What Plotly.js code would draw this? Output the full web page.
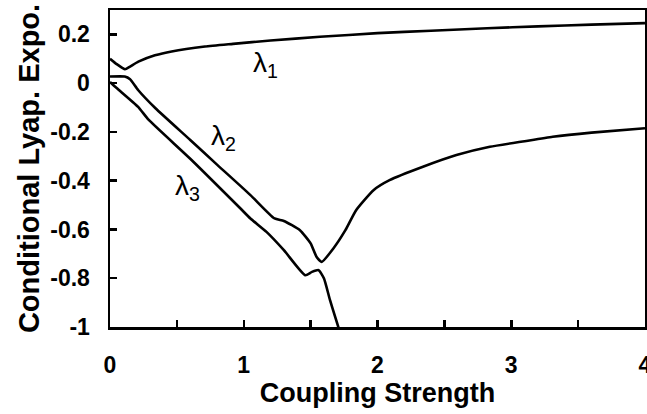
<!DOCTYPE html>
<html>
<head>
<meta charset="utf-8">
<script src="https://cdn.plot.ly/plotly-3.0.1.min.js"></script>
<style>html,body{margin:0;padding:0;background:#fff;}#chart{width:647px;height:414px;}</style>
</head>
<body>
<div id="chart"></div>
<script>
// λ1
const x1 = [0, 0.05, 0.112, 0.15, 0.212, 0.336, 0.461, 0.71, 0.92, 1.2, 1.57, 2.0, 2.4, 2.82, 3.2, 3.6, 4.0];
const y1 = [0.1, 0.078, 0.057, 0.068, 0.088, 0.114, 0.13, 0.15, 0.161, 0.175, 0.19, 0.205, 0.215, 0.225, 0.233, 0.24, 0.246];
// λ2
const x2 = [0, 0.11, 0.15, 0.21, 0.34, 0.6, 0.8, 1.05, 1.23, 1.3, 1.42, 1.5, 1.545, 1.583, 1.67, 1.76, 1.84, 1.97, 2.09, 2.34, 2.59, 2.84, 3.1, 3.31, 3.6, 4.0];
const y2 = [0.027, 0.027, 0.016, -0.028, -0.103, -0.233, -0.334, -0.459, -0.555, -0.565, -0.603, -0.657, -0.713, -0.733, -0.678, -0.603, -0.521, -0.439, -0.398, -0.343, -0.295, -0.261, -0.238, -0.22, -0.203, -0.185];
// λ3
const x3 = [0, 0.05, 0.21, 0.29, 0.6, 0.97, 1.05, 1.17, 1.3, 1.46, 1.51, 1.56, 1.6, 1.645, 1.715];
const y3 = [0.005, -0.02, -0.097, -0.151, -0.31, -0.511, -0.555, -0.61, -0.685, -0.788, -0.774, -0.767, -0.801, -0.89, -1.014];

const xTickVals = [0, 1, 2, 3, 4];
const xTickText = ['0', '1', '2', '3', '4'];
const yTickVals = [-1, -0.8, -0.6, -0.4, -0.2, 0, 0.2];
const yTickText = ['-1', '-0.8', '-0.6', '-0.4', '-0.2', '0', '0.2'];

const seriesLabels = ['λ<sub>1</sub>', 'λ<sub>2</sub>', 'λ<sub>3</sub>'];
const labelX = [1.16, 0.845, 0.576];
const labelY = [0.075, -0.221, -0.426];

const lineStyle = {color: '#000', width: 2.6, shape: 'spline', smoothing: 0.5};
const traces = [
  {x: x1, y: y1, mode: 'lines', line: lineStyle, name: 'λ1'},
  {x: x2, y: y2, mode: 'lines', line: lineStyle, name: 'λ2'},
  {x: x3, y: y3, mode: 'lines', line: lineStyle, name: 'λ3'}
];

const font = 'Arial, "Liberation Sans", sans-serif';
const layout = {
  width: 647, height: 414,
  margin: {l: 110, r: 2, t: 10, b: 87, pad: 0},
  paper_bgcolor: '#fff', plot_bgcolor: '#fff',
  showlegend: false,
  font: {family: font, color: '#000'},
  xaxis: {
    range: [0, 4], tickvals: xTickVals, ticktext: xTickText,
    ticks: 'inside', ticklen: 7, tickwidth: 2.5, tickcolor: '#000',
    minor: {tickvals: [0.5, 1.5, 2.5, 3.5], ticks: 'inside', ticklen: 7, tickwidth: 2.5, tickcolor: '#000', showgrid: false},
    showline: true, linewidth: 2.5, linecolor: '#000', mirror: true,
    showgrid: false, zeroline: false,
    ticklabeloverflow: 'allow',
    tickfont: {family: font, size: 23, color: '#000', weight: 'bold'},
    ticklabelstandoff: 16,
    title: {text: 'Coupling Strength', font: {family: font, size: 27, color: '#000', weight: 'bold'}, standoff: 4}
  },
  yaxis: {
    range: [-1, 0.3], tickvals: yTickVals, ticktext: yTickText,
    ticks: 'inside', ticklen: 7, tickwidth: 2.5, tickcolor: '#000',
    showline: true, linewidth: 2.5, linecolor: '#000', mirror: true,
    showgrid: false, zeroline: false,
    tickfont: {family: font, size: 23, color: '#000', weight: 'bold'},
    ticklabelstandoff: 13,
    title: {text: 'Conditional Lyap. Expo.', font: {family: font, size: 29, color: '#000', weight: 'bold'}, standoff: 2}
  },
  annotations: seriesLabels.map((t, i) => ({
    x: labelX[i], y: labelY[i], xref: 'x', yref: 'y', text: t, showarrow: false,
    font: {family: font, size: 28, color: '#000'}
  }))
};

Plotly.newPlot('chart', traces, layout, {displayModeBar: false, staticPlot: true});
</script>
</body>
</html>
